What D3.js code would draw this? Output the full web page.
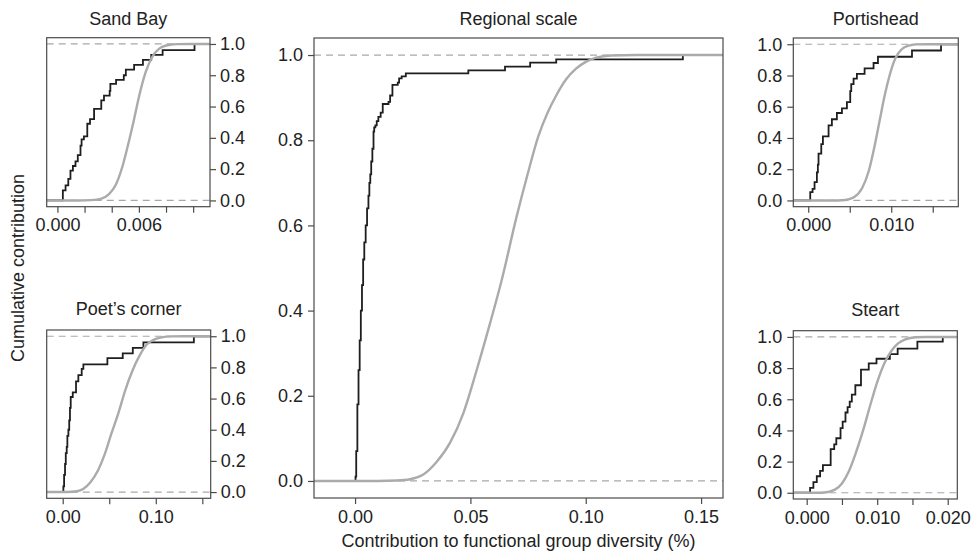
<!DOCTYPE html>
<html lang="en">
<head>
<meta charset="UTF-8">
<title>Cumulative contribution</title>
<script src="https://cdn.jsdelivr.net/npm/d3@7/dist/d3.min.js"></script>
<style>
  body { margin: 0; background: #fff; }
  text { font-family: "Liberation Sans", Arial, sans-serif; fill: #222; }
</style>
</head>
<body>
<script>
// ---- data ----
const yTicks = [0, 0.2, 0.4, 0.6, 0.8, 1.0];

const sandBayTicks = [0, 0.002, 0.004, 0.006, 0.008, 0.010];
const sandBayLabels = ["0.000", "", "", "0.006", "", ""];
const sandBayStepX = [0.0004, 0.0006, 0.0008, 0.00096, 0.00114, 0.00133, 0.0015, 0.0017, 0.00178, 0.00195, 0.0022, 0.0024, 0.0027, 0.00323, 0.00343, 0.00385, 0.0039, 0.00432, 0.00489, 0.00504, 0.00565, 0.0063, 0.00691, 0.00775, 0.0101];
const sandBayStepY = [0.064, 0.096, 0.138, 0.19, 0.22, 0.25, 0.29, 0.35, 0.39, 0.41, 0.49, 0.52, 0.585, 0.64, 0.67, 0.70, 0.745, 0.77, 0.80, 0.836, 0.866, 0.898, 0.93, 0.96, 1.0];
const sandBayFitX = [-0.001, 0.0015, 0.0025, 0.0032, 0.0038, 0.0043, 0.0048, 0.0053, 0.0056, 0.0060, 0.0065, 0.0070, 0.0075, 0.0080, 0.0088, 0.0098, 0.012];
const sandBayFitY = [0, 0, 0.002, 0.01, 0.04, 0.1, 0.22, 0.39, 0.5, 0.66, 0.82, 0.92, 0.97, 0.99, 0.999, 1, 1];

const poetsTicks = [0, 0.05, 0.10, 0.15];
const poetsLabels = ["0.00", "", "0.10", ""];
const poetsStepX = [0.0007, 0.0015, 0.0025, 0.0033, 0.0043, 0.005, 0.0061, 0.007, 0.0078, 0.0086, 0.0108, 0.0143, 0.0168, 0.0204, 0.0222, 0.048, 0.0645, 0.0753, 0.0867, 0.1409];
const poetsStepY = [0.036, 0.11, 0.18, 0.25, 0.29, 0.36, 0.40, 0.46, 0.54, 0.61, 0.64, 0.71, 0.75, 0.79, 0.82, 0.86, 0.89, 0.925, 0.96, 1.0];
const poetsFitX = [-0.02, 0.005, 0.015, 0.022, 0.030, 0.038, 0.045, 0.052, 0.060, 0.067, 0.075, 0.083, 0.090, 0.098, 0.106, 0.118, 0.13, 0.16];
const poetsFitY = [0, 0, 0.005, 0.02, 0.065, 0.14, 0.24, 0.37, 0.51, 0.65, 0.78, 0.88, 0.945, 0.978, 0.993, 0.999, 1, 1];

const regionalTicks = [0, 0.05, 0.10, 0.15];
const regionalLabels = ["0.00", "0.05", "0.10", "0.15"];
const regionalStepX = [0.0002, 0.0005, 0.0010, 0.0015, 0.0020, 0.0025, 0.0030, 0.0035, 0.0040, 0.0046, 0.0052, 0.0058, 0.0062, 0.0066, 0.0070, 0.0075, 0.0080, 0.0083, 0.0088, 0.0094, 0.0101, 0.0111, 0.0120, 0.0145, 0.0152, 0.0162, 0.0185, 0.0191, 0.0202, 0.0220, 0.0491, 0.0650, 0.0759, 0.0872, 0.1421];
const regionalStepY = [0.01, 0.07, 0.18, 0.26, 0.33, 0.40, 0.46, 0.52, 0.56, 0.60, 0.64, 0.67, 0.70, 0.72, 0.75, 0.78, 0.82, 0.83, 0.835, 0.845, 0.855, 0.865, 0.885, 0.89, 0.905, 0.93, 0.935, 0.945, 0.95, 0.957, 0.964, 0.973, 0.982, 0.99, 1.0];
const regionalFitX = [-0.02, 0.010, 0.018, 0.0238, 0.0296, 0.0354, 0.0412, 0.047, 0.0527, 0.0585, 0.0635, 0.0700, 0.0748, 0.0795, 0.0835, 0.0872, 0.0915, 0.0958, 0.1000, 0.1045, 0.111, 0.122, 0.16];
const regionalFitY = [0, 0, 0.001, 0.004, 0.015, 0.045, 0.09, 0.16, 0.26, 0.37, 0.47, 0.62, 0.72, 0.81, 0.865, 0.905, 0.943, 0.968, 0.984, 0.994, 0.999, 1, 1];

const portisheadTicks = [0, 0.005, 0.010, 0.015];
const portisheadLabels = ["0.000", "", "0.010", ""];
const portisheadStepX = [0.00024, 0.00052, 0.00076, 0.00104, 0.00116, 0.00124, 0.00157, 0.00177, 0.00245, 0.00285, 0.00345, 0.00406, 0.00466, 0.00506, 0.00518, 0.00546, 0.00586, 0.00679, 0.00787, 0.0084, 0.0125, 0.016];
const portisheadStepY = [0.053, 0.074, 0.117, 0.18, 0.23, 0.30, 0.36, 0.41, 0.48, 0.52, 0.56, 0.59, 0.63, 0.70, 0.745, 0.78, 0.81, 0.845, 0.88, 0.92, 0.96, 1.0];
const portisheadFitX = [-0.002, 0.0035, 0.0045, 0.0055, 0.0065, 0.0073, 0.0080, 0.0086, 0.0092, 0.0098, 0.0105, 0.0112, 0.012, 0.013, 0.0145, 0.019];
const portisheadFitY = [0, 0, 0.003, 0.02, 0.08, 0.19, 0.35, 0.51, 0.67, 0.80, 0.91, 0.965, 0.99, 0.999, 1, 1];

const steartTicks = [0, 0.005, 0.010, 0.015, 0.020];
const steartLabels = ["0.000", "", "0.010", "", "0.020"];
const steartStepX = [0.00048, 0.00095, 0.00143, 0.0019, 0.0023, 0.0034, 0.0039, 0.0042, 0.0048, 0.0051, 0.0055, 0.0058, 0.0061, 0.0064, 0.0069, 0.0077, 0.0088, 0.0099, 0.0118, 0.0129, 0.0157, 0.0193];
const steartStepY = [0.032, 0.068, 0.106, 0.14, 0.177, 0.28, 0.31, 0.35, 0.415, 0.457, 0.515, 0.55, 0.585, 0.63, 0.69, 0.79, 0.83, 0.86, 0.89, 0.925, 0.97, 1.0];
const steartFitX = [-0.002, 0.002, 0.003, 0.004, 0.005, 0.006, 0.007, 0.008, 0.009, 0.010, 0.011, 0.012, 0.013, 0.014, 0.0155, 0.017, 0.022];
const steartFitY = [0, 0, 0.005, 0.02, 0.06, 0.14, 0.26, 0.40, 0.56, 0.71, 0.83, 0.91, 0.96, 0.985, 0.998, 1, 1];

// ---- layout ----
const W = 971, H = 553;
const panels = [
  { title: "Sand Bay", box: [46.7, 37.7, 210, 206.7], xDomain: [-0.00079, 0.01124], ticks: sandBayTicks, labels: sandBayLabels, yAxis: "right", titleY: 25,
    stepX: sandBayStepX, stepY: sandBayStepY, fitX: sandBayFitX, fitY: sandBayFitY },
  { title: "Poet\u2019s corner", box: [46.7, 330, 210.7, 498.3], xDomain: [-0.0172, 0.159], ticks: poetsTicks, labels: poetsLabels, yAxis: "right", titleY: 315,
    stepX: poetsStepX, stepY: poetsStepY, fitX: poetsFitX, fitY: poetsFitY },
  { title: "Regional scale", box: [314, 38, 723, 498], xDomain: [-0.0178, 0.1595], ticks: regionalTicks, labels: regionalLabels, yAxis: "left", titleY: 25,
    stepX: regionalStepX, stepY: regionalStepY, fitX: regionalFitX, fitY: regionalFitY },
  { title: "Portishead", box: [793.3, 38, 958.3, 206.7], xDomain: [-0.0018, 0.01808], ticks: portisheadTicks, labels: portisheadLabels, yAxis: "left", titleY: 25,
    stepX: portisheadStepX, stepY: portisheadStepY, fitX: portisheadFitX, fitY: portisheadFitY },
  { title: "Steart", box: [793.3, 330.7, 957.3, 499], xDomain: [-0.0019, 0.02136], ticks: steartTicks, labels: steartLabels, yAxis: "left", titleY: 316,
    stepX: steartStepX, stepY: steartStepY, fitX: steartFitX, fitY: steartFitY }
];

const svg = d3.select('body').append('svg')
  .attr('width', W)
  .attr('height', H);

panels.forEach((p, k) => {
  const [x0, y0, x1, y1] = p.box;
  const x = d3.scaleLinear().domain(p.xDomain).range([x0, x1]);
  const y = d3.scaleLinear().domain([-0.04, 1.04]).range([y1, y0]);
  const g = svg.append('g');

  g.append('clipPath').attr('id', 'clip' + k)
    .append('rect').attr('x', x0).attr('y', y0).attr('width', x1 - x0).attr('height', y1 - y0);

  const plot = g.append('g').attr('clip-path', `url(#clip${k})`);

  // reference lines at 0 and 1
  plot.selectAll('line.ref')
    .data([0, 1])
    .enter().append('line')
    .attr('x1', x0).attr('x2', x1)
    .attr('y1', d => y(d)).attr('y2', d => y(d))
    .attr('stroke', '#a8a8a8')
    .attr('stroke-width', 1.2)
    .attr('stroke-dasharray', '7,5');

  // empirical cdf
  const steps = [[p.xDomain[0], 0]].concat(p.stepX.map((v, i) => [v, p.stepY[i]]), [[p.xDomain[1], 1]]);
  plot.append('path')
    .attr('d', d3.line().x(d => x(d[0])).y(d => y(d[1])).curve(d3.curveStepAfter)(steps))
    .attr('fill', 'none')
    .attr('stroke', '#1e1e1e')
    .attr('stroke-width', 1.8);

  // fitted curve
  const fit = p.fitX.map((v, i) => [v, p.fitY[i]]);
  plot.append('path')
    .attr('d', d3.line().x(d => x(d[0])).y(d => y(d[1])).curve(d3.curveMonotoneX)(fit))
    .attr('fill', 'none')
    .attr('stroke', '#ababab')
    .attr('stroke-width', 2.4);

  // box
  g.append('rect')
    .attr('x', x0).attr('y', y0)
    .attr('width', x1 - x0).attr('height', y1 - y0)
    .attr('fill', 'none')
    .attr('stroke', '#4a4a4a')
    .attr('stroke-width', 1.2);

  // axes
  const xAxis = d3.axisBottom(x)
    .tickValues(p.ticks)
    .tickFormat((d, i) => p.labels[i])
    .tickSize(6).tickSizeOuter(0).tickPadding(6);
  const xg = g.append('g').attr('transform', `translate(0,${y1})`).call(xAxis);

  const yAxis = (p.yAxis === 'right' ? d3.axisRight(y) : d3.axisLeft(y))
    .tickValues(yTicks)
    .tickFormat(d3.format('.1f'))
    .tickSize(6).tickSizeOuter(0).tickPadding(p.yAxis === 'right' ? 4 : 5);
  const yg = g.append('g').attr('transform', `translate(${p.yAxis === 'right' ? x1 : x0},0)`).call(yAxis);

  [xg, yg].forEach(a => {
    a.select('.domain').remove();
    a.selectAll('.tick line').attr('stroke', '#4a4a4a').attr('stroke-width', 1.2);
    a.selectAll('.tick text').style('font-size', '18px').attr('fill', '#222');
  });

  g.append('text')
    .attr('x', (x0 + x1) / 2)
    .attr('y', p.titleY)
    .attr('text-anchor', 'middle')
    .style('font-size', '18px')
    .text(p.title);
});

// shared axis titles
svg.append('text')
  .attr('x', 518.5).attr('y', 547)
  .attr('text-anchor', 'middle')
  .style('font-size', '18px')
  .text('Contribution to functional group diversity (%)');

svg.append('text')
  .attr('transform', 'translate(24,268) rotate(-90)')
  .attr('text-anchor', 'middle')
  .style('font-size', '18px')
  .text('Cumulative contribution');
</script>
</body>
</html>
